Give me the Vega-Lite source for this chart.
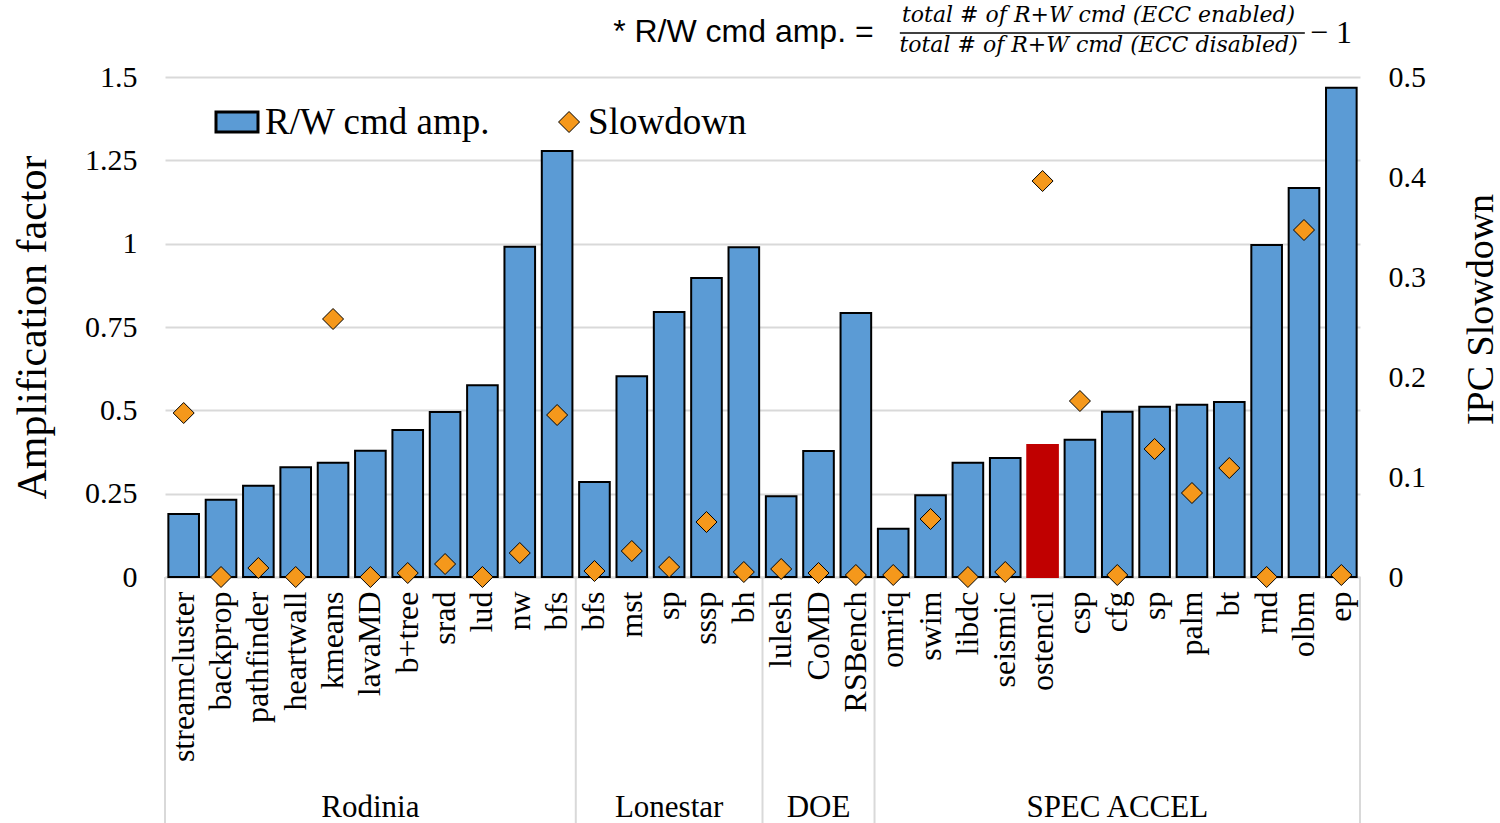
{
  "$schema": "https://vega.github.io/schema/vega-lite/v6.json",
  "width": 1195,
  "height": 500,
  "autosize": {"type": "none"},
  "padding": {"left": 165, "top": 77, "right": 140, "bottom": 246},
  "background": "white",
  "config": {
    "view": {"stroke": null},
    "font": "Liberation Serif",
    "axis": {"labelFont": "Liberation Serif", "titleFont": "Liberation Serif", "labelColor": "black", "titleColor": "black", "titleFontWeight": "normal"}
  },
  "data": {"values": [
    {"key": "streamcluster", "group": "Rodinia", "amp": 0.189, "slow": 0.164},
    {"key": "backprop", "group": "Rodinia", "amp": 0.232, "slow": 0.0},
    {"key": "pathfinder", "group": "Rodinia", "amp": 0.274, "slow": 0.009},
    {"key": "heartwall", "group": "Rodinia", "amp": 0.329, "slow": 0.0},
    {"key": "kmeans", "group": "Rodinia", "amp": 0.343, "slow": 0.258},
    {"key": "lavaMD", "group": "Rodinia", "amp": 0.379, "slow": 0.0},
    {"key": "b+tree", "group": "Rodinia", "amp": 0.441, "slow": 0.004},
    {"key": "srad", "group": "Rodinia", "amp": 0.495, "slow": 0.013},
    {"key": "lud", "group": "Rodinia", "amp": 0.575, "slow": 0.0},
    {"key": "nw", "group": "Rodinia", "amp": 0.991, "slow": 0.024},
    {"key": "bfs", "group": "Rodinia", "amp": 1.278, "slow": 0.162},
    {"key": "bfs@L", "group": "Lonestar", "amp": 0.285, "slow": 0.006},
    {"key": "mst", "group": "Lonestar", "amp": 0.602, "slow": 0.026},
    {"key": "sp@L", "group": "Lonestar", "amp": 0.795, "slow": 0.010},
    {"key": "sssp", "group": "Lonestar", "amp": 0.897, "slow": 0.055},
    {"key": "bh", "group": "Lonestar", "amp": 0.989, "slow": 0.005},
    {"key": "lulesh", "group": "DOE", "amp": 0.242, "slow": 0.008},
    {"key": "CoMD", "group": "DOE", "amp": 0.378, "slow": 0.004},
    {"key": "RSBench", "group": "DOE", "amp": 0.792, "slow": 0.002},
    {"key": "omriq", "group": "SPEC ACCEL", "amp": 0.145, "slow": 0.002},
    {"key": "swim", "group": "SPEC ACCEL", "amp": 0.245, "slow": 0.058},
    {"key": "libdc", "group": "SPEC ACCEL", "amp": 0.343, "slow": 0.0},
    {"key": "seismic", "group": "SPEC ACCEL", "amp": 0.357, "slow": 0.005},
    {"key": "ostencil", "group": "SPEC ACCEL", "amp": 0.396, "slow": 0.396},
    {"key": "csp", "group": "SPEC ACCEL", "amp": 0.412, "slow": 0.176},
    {"key": "cfg", "group": "SPEC ACCEL", "amp": 0.496, "slow": 0.002},
    {"key": "sp@S", "group": "SPEC ACCEL", "amp": 0.511, "slow": 0.128},
    {"key": "palm", "group": "SPEC ACCEL", "amp": 0.517, "slow": 0.084},
    {"key": "bt", "group": "SPEC ACCEL", "amp": 0.525, "slow": 0.109},
    {"key": "rnd", "group": "SPEC ACCEL", "amp": 0.996, "slow": 0.0},
    {"key": "olbm", "group": "SPEC ACCEL", "amp": 1.167, "slow": 0.347},
    {"key": "ep", "group": "SPEC ACCEL", "amp": 1.468, "slow": 0.002}
  ]},
  "layer": [
    {
      "layer": [
        {
          "mark": {"type": "bar", "width": {"band": 0.82}, "strokeWidth": 2},
          "encoding": {
            "x": {"field": "key", "type": "nominal", "title": null,
              "scale": {"domain": ["streamcluster","backprop","pathfinder","heartwall","kmeans","lavaMD","b+tree","srad","lud","nw","bfs","bfs@L","mst","sp@L","sssp","bh","lulesh","CoMD","RSBench","omriq","swim","libdc","seismic","ostencil","csp","cfg","sp@S","palm","bt","rnd","olbm","ep"], "paddingInner": 0, "paddingOuter": 0},
              "axis": {"title": null, "labelAngle": 270, "labelAlign": "right", "labelBaseline": "middle", "labelFontSize": 32, "labelPadding": 14, "labelOverlap": false, "ticks": false, "domainColor": "#D9D9D9", "domainWidth": 2, "labelExpr": "split(datum.label, '@')[0]"}},
            "y": {"field": "amp", "type": "quantitative", "title": "Amplification factor", "scale": {"domain": [0, 1.5], "nice": false},
              "axis": {"title": "Amplification factor", "titleFontSize": 42, "titlePadding": 30, "values": [0, 0.25, 0.5, 0.75, 1, 1.25, 1.5], "labelExpr": "'' + datum.value", "labelFontSize": 30, "labelPadding": 28, "ticks": false, "domain": false, "gridColor": "#D9D9D9", "gridWidth": 2}},
            "fill": {"condition": {"test": "datum.key === 'ostencil'", "value": "#C00000"}, "value": "#5B9BD5"},
            "stroke": {"condition": {"test": "datum.key === 'ostencil'", "value": "#C00000"}, "value": "#000000"}
          }
        },
        {
          "data": {"values": [{"k": "streamcluster"}, {"k": "bfs@L"}, {"k": "lulesh"}, {"k": "omriq"}]},
          "mark": {"type": "rule", "color": "#D9D9D9", "strokeWidth": 2},
          "encoding": {
            "x": {"field": "k", "type": "nominal", "bandPosition": 0},
            "y": {"datum": 0, "type": "quantitative"},
            "y2": {"datum": -0.74}
          }
        },
        {
          "data": {"values": [{"k": "ep"}]},
          "mark": {"type": "rule", "color": "#D9D9D9", "strokeWidth": 2},
          "encoding": {
            "x": {"field": "k", "type": "nominal", "bandPosition": 1},
            "y": {"datum": 0, "type": "quantitative"},
            "y2": {"datum": -0.74}
          }
        },
        {
          "data": {"values": [{"k": "lavaMD", "label": "Rodinia"}, {"k": "sp@L", "label": "Lonestar"}, {"k": "CoMD", "label": "DOE"}, {"k": "cfg", "label": "SPEC ACCEL"}]},
          "mark": {"type": "text", "fontSize": 31, "font": "Liberation Serif", "baseline": "alphabetic", "align": "center", "color": "black"},
          "encoding": {
            "x": {"field": "k", "type": "nominal"},
            "y": {"datum": -0.72, "type": "quantitative"},
            "text": {"field": "label"}
          }
        },
        {
          "data": {"values": [{"label": "R/W cmd amp."}]},
          "mark": {"type": "point", "shape": "M-1,-0.476L1,-0.476L1,0.476L-1,0.476Z", "size": 1764, "filled": true, "fill": "#5B9BD5", "stroke": "black", "strokeWidth": 3, "opacity": 1},
          "encoding": {
            "x": {"datum": "backprop", "type": "nominal", "bandPosition": 0.928},
            "y": {"datum": 1.365, "type": "quantitative"}
          }
        },
        {
          "data": {"values": [{"label": "Slowdown"}]},
          "mark": {"type": "point", "shape": "diamond", "size": 441, "filled": true, "fill": "#F5981B", "stroke": "black", "strokeWidth": 1, "opacity": 1},
          "encoding": {
            "x": {"datum": "bfs", "type": "nominal", "bandPosition": 0.82},
            "y": {"datum": 1.365, "type": "quantitative"}
          }
        },
        {
          "data": {"values": [{"label": "R/W cmd amp."}]},
          "mark": {"type": "text", "fontSize": 37, "font": "Liberation Serif", "align": "left", "baseline": "alphabetic", "color": "black"},
          "encoding": {
            "x": {"datum": "pathfinder", "type": "nominal", "bandPosition": 0.68},
            "y": {"datum": 1.33, "type": "quantitative"},
            "text": {"field": "label"}
          }
        },
        {
          "data": {"values": [{"label": "Slowdown"}]},
          "mark": {"type": "text", "fontSize": 37, "font": "Liberation Serif", "align": "left", "baseline": "alphabetic", "color": "black"},
          "encoding": {
            "x": {"datum": "bfs@L", "type": "nominal", "bandPosition": 0.33},
            "y": {"datum": 1.33, "type": "quantitative"},
            "text": {"field": "label"}
          }
        },
        {
          "data": {"values": [{"label": "* R/W cmd amp. ="}]},
          "mark": {"type": "text", "fontSize": 32, "font": "Liberation Sans", "align": "left", "baseline": "alphabetic", "color": "black"},
          "encoding": {
            "x": {"datum": "mst", "type": "nominal", "bandPosition": 0},
            "y": {"datum": 1.605, "type": "quantitative"},
            "text": {"field": "label"}
          }
        },
        {
          "data": {"values": [{"label": "total # of R+W cmd (ECC enabled)"}]},
          "mark": {"type": "text", "fontSize": 22, "font": "DejaVu Serif", "fontStyle": "italic", "align": "center", "baseline": "alphabetic", "color": "black"},
          "encoding": {
            "x": {"datum": "cfg", "type": "nominal", "bandPosition": 0},
            "y": {"datum": 1.665, "type": "quantitative"},
            "text": {"field": "label"}
          }
        },
        {
          "data": {"values": [{"label": "total # of R+W cmd (ECC disabled)"}]},
          "mark": {"type": "text", "fontSize": 22, "font": "DejaVu Serif", "fontStyle": "italic", "align": "center", "baseline": "alphabetic", "color": "black"},
          "encoding": {
            "x": {"datum": "cfg", "type": "nominal", "bandPosition": 0},
            "y": {"datum": 1.576, "type": "quantitative"},
            "text": {"field": "label"}
          }
        },
        {
          "data": {"values": [{"label": "line"}]},
          "mark": {"type": "point", "shape": "M-1,0L1,0", "size": 164025, "filled": false, "stroke": "black", "strokeWidth": 1.5, "opacity": 1},
          "encoding": {
            "x": {"datum": "cfg", "type": "nominal", "bandPosition": 0.1},
            "y": {"datum": 1.632, "type": "quantitative"}
          }
        },
        {
          "data": {"values": [{"label": "− 1"}]},
          "mark": {"type": "text", "fontSize": 32, "font": "Liberation Serif", "align": "left", "baseline": "alphabetic", "color": "black"},
          "encoding": {
            "x": {"datum": "olbm", "type": "nominal", "bandPosition": 0.66},
            "y": {"datum": 1.602, "type": "quantitative"},
            "text": {"field": "label"}
          }
        }
      ]
    },
    {
      "mark": {"type": "point", "shape": "diamond", "size": 441, "filled": true, "fill": "#F5981B", "stroke": "black", "strokeWidth": 1, "opacity": 1},
      "encoding": {
        "x": {"field": "key", "type": "nominal"},
        "y": {"field": "slow", "type": "quantitative", "title": "IPC Slowdown", "scale": {"domain": [0, 0.5], "nice": false},
          "axis": {"orient": "right", "title": "IPC Slowdown", "titleAngle": 270, "titleFontSize": 38, "titlePadding": 75, "titleY": 232, "values": [0, 0.1, 0.2, 0.3, 0.4, 0.5], "labelExpr": "'' + datum.value", "labelFontSize": 30, "labelPadding": 28, "ticks": false, "domain": false, "grid": false}}
      }
    }
  ],
  "resolve": {"scale": {"y": "independent"}}
}
